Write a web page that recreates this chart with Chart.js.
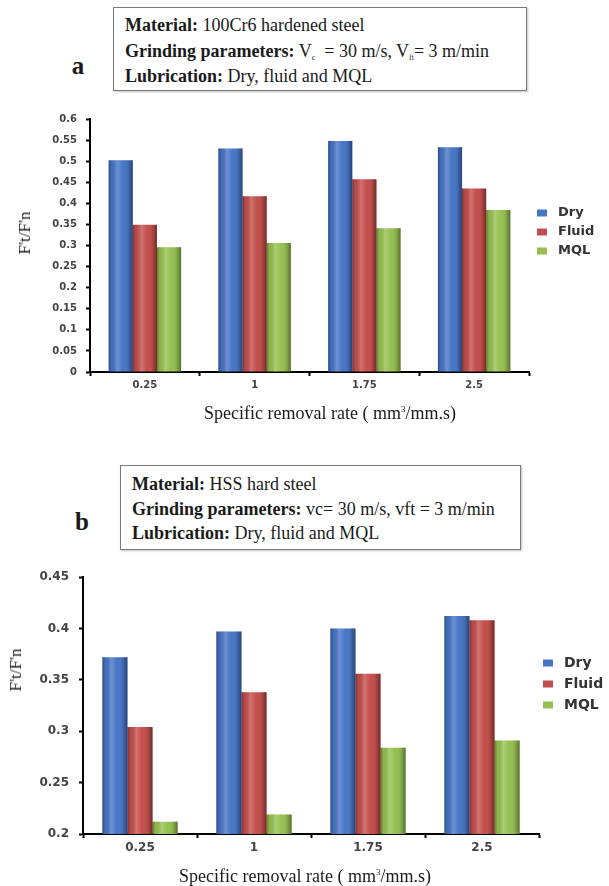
<!DOCTYPE html>
<html lang="en">
<head>
    <meta charset="UTF-8">
    <title>Ft/Fn ratio - dry, fluid and MQL grinding</title>
    <script src="https://cdn.jsdelivr.net/npm/chart.js"></script>
    <style>
        body {
            margin: 0;
            width: 609px;
            height: 886px;
            position: relative;
            background: #fff;
            overflow: hidden;
            font-family: 'Liberation Serif', 'Times New Roman', serif;
            color: #1a1a1a;
        }
        .box {
            position: absolute;
            box-sizing: border-box;
            border: 1.5px solid #7a7a7a;
            box-shadow: 1px 1px 2px rgba(0, 0, 0, 0.25);
            font-size: 18px;
            padding-left: 11px;
            white-space: nowrap;
        }
        .box sub {
            font-size: 8px;
            line-height: 0;
            vertical-align: -3px;
        }
        .panel {
            position: absolute;
            font-weight: bold;
            font-size: 25px;
            transform: translate(-50%, -50%);
        }
        .chart-wrap {
            position: absolute;
            left: 0;
            width: 609px;
        }
        .xtitle, .ytitle {
            position: absolute;
            font-size: 18px;
            white-space: nowrap;
            transform: translate(-50%, -50%);
        }
        .xtitle sup {
            font-size: 9px;
            line-height: 0;
        }
        .ytitle {
            font-size: 17px;
            transform: translate(-50%, -50%) rotate(-90deg);
        }
    </style>
</head>
<body>
    <!-- panel a -->
    <div class="panel" style="left:78px; top:66px;">a</div>
    <div class="box" style="left:113px; top:7px; width:414px; height:84px; padding-top:5px; line-height:25.5px;">
        <div><b>Material:</b> 100Cr6 hardened steel</div>
        <div><b>Grinding parameters:</b> V<sub>c</sub> &nbsp;= 30 m/s, V<sub>ft</sub>= 3 m/min</div>
        <div><b>Lubrication:</b> Dry, fluid and MQL</div>
    </div>
    <div class="chart-wrap" style="top:100px; height:330px;"><canvas id="chartA"></canvas></div>
    <div class="ytitle" style="left:25px; top:233px;">F't/F'n</div>
    <div class="xtitle" style="left:330px; top:413px;">Specific removal rate ( mm<sup>3</sup>/mm.s)</div>

    <!-- panel b -->
    <div class="panel" style="left:82px; top:522px;">b</div>
    <div class="box" style="left:120px; top:465px; width:401px; height:85px; padding-top:6px; line-height:24.5px;">
        <div><b>Material:</b> HSS hard steel</div>
        <div><b>Grinding parameters:</b> vc= 30 m/s, vft = 3 m/min</div>
        <div><b>Lubrication:</b> Dry, fluid and MQL</div>
    </div>
    <div class="chart-wrap" style="top:558px; height:328px;"><canvas id="chartB"></canvas></div>
    <div class="ytitle" style="left:16px; top:670px;">F't/F'n</div>
    <div class="xtitle" style="left:305px; top:876px;">Specific removal rate ( mm<sup>3</sup>/mm.s)</div>

    <script>
        // data
        const removalRates = ['0.25', '1', '1.75', '2.5'];
        const seriesNames = ['Dry', 'Fluid', 'MQL'];
        const seriesColors = ['#4674c6', '#c34d4a', '#95c04f'];

        // (a) 100Cr6 hardened steel
        const dryA = [0.502, 0.530, 0.548, 0.533];
        const fluidA = [0.349, 0.417, 0.457, 0.435];
        const mqlA = [0.296, 0.306, 0.341, 0.384];

        // (b) HSS hard steel
        const dryB = [0.372, 0.397, 0.400, 0.412];
        const fluidB = [0.304, 0.338, 0.356, 0.408];
        const mqlB = [0.212, 0.219, 0.284, 0.291];

        // cylinder-like shading over each bar (old Excel look)
        const barShadePlugin = {
            id: 'barShade',
            afterDatasetsDraw(chart) {
                const ctx = chart.ctx;
                const area = chart.chartArea;
                ctx.save();
                chart.data.datasets.forEach((ds, i) => {
                    chart.getDatasetMeta(i).data.forEach(bar => {
                        const { x, y, base, width } = bar.getProps(['x', 'y', 'base', 'width'], true);
                        const left = x - width / 2;
                        const bottom = Math.min(base, area.bottom);
                        const g = ctx.createLinearGradient(left, 0, left + width, 0);
                        g.addColorStop(0, 'rgba(0,0,0,0.35)');
                        g.addColorStop(0.12, 'rgba(0,0,0,0.05)');
                        g.addColorStop(0.35, 'rgba(255,255,255,0.22)');
                        g.addColorStop(0.6, 'rgba(255,255,255,0)');
                        g.addColorStop(0.85, 'rgba(0,0,0,0.15)');
                        g.addColorStop(1, 'rgba(0,0,0,0.42)');
                        ctx.fillStyle = g;
                        ctx.fillRect(left, y, width, bottom - y);
                    });
                });
                ctx.restore();
            }
        };

        // small legend to the right of the plot
        const sideLegendPlugin = {
            id: 'sideLegend',
            afterDraw(chart, args, opts) {
                const ctx = chart.ctx;
                const area = chart.chartArea;
                ctx.save();
                ctx.font = "bold " + opts.fontSize + "px 'DejaVu Sans', sans-serif";
                ctx.textBaseline = 'middle';
                chart.data.datasets.forEach((ds, i) => {
                    const y = area.top + opts.firstY + i * opts.gap;
                    const x = area.right + opts.dx;
                    ctx.fillStyle = ds.backgroundColor;
                    ctx.fillRect(x, y - 3.5, 10, 7);
                    ctx.fillStyle = '#333';
                    ctx.fillText(ds.label, x + 21, y);
                });
                ctx.restore();
            }
        };

        Chart.register(barShadePlugin, sideLegendPlugin);

        function makeChart(canvasId, values, opt) {
            const tickFont = { family: "'DejaVu Sans', sans-serif", size: opt.tickSize, weight: 'bold' };
            return new Chart(document.getElementById(canvasId), {
                type: 'bar',
                data: {
                    labels: removalRates,
                    datasets: values.map((v, i) => ({
                        label: seriesNames[i],
                        data: v,
                        backgroundColor: seriesColors[i],
                        borderWidth: 0,
                        categoryPercentage: 0.66,
                        barPercentage: 1
                    }))
                },
                options: {
                    responsive: true,
                    maintainAspectRatio: false,
                    animation: false,
                    layout: { padding: { top: opt.padTop, right: opt.padRight, left: 0, bottom: 0 } },
                    plugins: {
                        legend: { display: false },
                        tooltip: { enabled: false },
                        sideLegend: opt.legend
                    },
                    scales: {
                        x: {
                            z: 1,
                            grid: { drawOnChartArea: false, tickLength: 4, tickColor: '#000', tickWidth: 2 },
                            border: { color: '#000', width: 2 },
                            ticks: { color: '#444', font: tickFont, padding: 3 },
                            afterFit: s => { s.height = opt.xHeight; }
                        },
                        y: {
                            min: opt.min,
                            max: opt.max,
                            grid: { drawOnChartArea: false, tickLength: 4, tickColor: '#000', tickWidth: 2 },
                            border: { color: '#000', width: 2 },
                            ticks: {
                                stepSize: 0.05,
                                color: '#444',
                                font: tickFont,
                                padding: opt.tickPad,
                                callback: v => String(Math.round(v * 100) / 100)
                            },
                            afterFit: s => { s.width = opt.yWidth; }
                        }
                    }
                }
            });
        }

        makeChart('chartA', [dryA, fluidA, mqlA], {
            min: 0, max: 0.6,
            padTop: 19, padRight: 80,
            xHeight: 58, yWidth: 90, tickPad: 9, tickSize: 10,
            legend: { firstY: 94, gap: 19, dx: 8, fontSize: 13 }
        });

        makeChart('chartB', [dryB, fluidB, mqlB], {
            min: 0.2, max: 0.45,
            padTop: 19, padRight: 70,
            xHeight: 52, yWidth: 83, tickPad: 10, tickSize: 12,
            legend: { firstY: 86, gap: 21, dx: 4, fontSize: 14 }
        });
    </script>
</body>
</html>
